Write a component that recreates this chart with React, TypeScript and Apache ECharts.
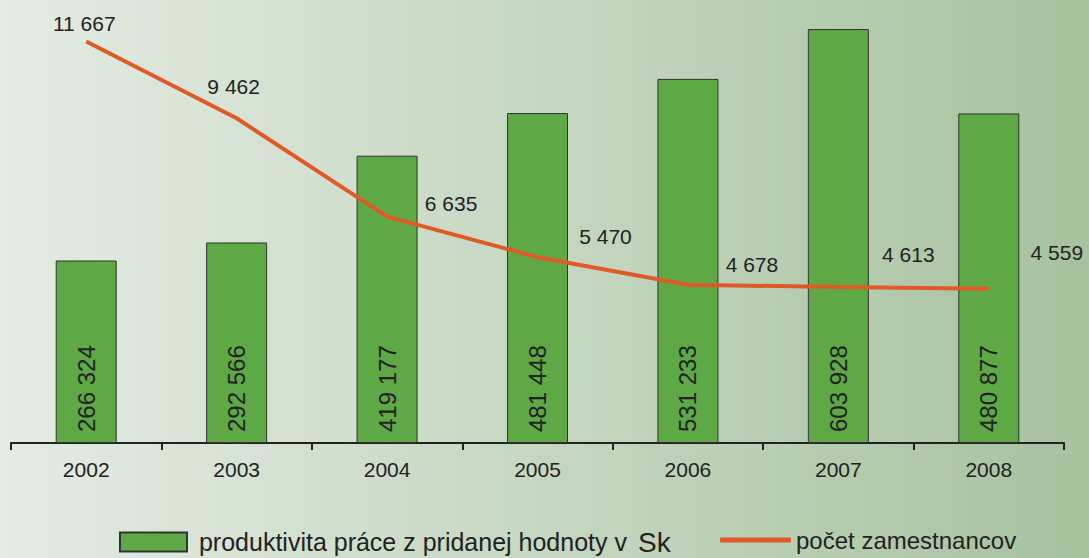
import React, { useEffect, useRef } from "react";
import * as echarts from "echarts";

const years = ["2002", "2003", "2004", "2005", "2006", "2007", "2008"];
const productivity = [266324, 292566, 419177, 481448, 531233, 603928, 480877];
const employees = [11667, 9462, 6635, 5470, 4678, 4613, 4559];
const employeeLabelOffsets = [
  [-2, -18],
  [-3, -32],
  [64, -13],
  [68, -21],
  [64, -20],
  [70, -32],
  [68, -36],
];

const barName = "produktivita práce z pridanej hodnoty v Sk";
const lineName = "počet zamestnancov";

const fmt = (v: number) => String(v).replace(/\B(?=(\d{3})+(?!\d))/g, " ");

const FONT = "'Liberation Sans', Arial, sans-serif";

export default function App() {
  const ref = useRef<HTMLDivElement>(null);
  useEffect(() => {
    if (!ref.current) return;
    const chart = echarts.init(ref.current, null, { renderer: "svg" });
    chart.setOption({
      animation: false,
      textStyle: { fontFamily: FONT },
      grid: { left: 11, right: 25, top: 3, bottom: 115, containLabel: false },
      legend: [
        {
          data: [barName],
          left: 119,
          top: 528,
          padding: 0,
          itemWidth: 67,
          itemHeight: 19,
          icon: "rect",
          formatter: () => "{a| produktivita práce z pridanej hodnoty v}{b|Sk}",
          textStyle: {
            color: "#222",
            rich: {
              a: { fontSize: 25, fontFamily: FONT, color: "#222" },
              b: { fontSize: 28, fontFamily: FONT, color: "#222", padding: [0, 0, 0, 11] },
            },
          },
        },
        {
          data: [lineName],
          left: 720,
          top: 528,
          padding: 0,
          itemWidth: 71,
          itemHeight: 5,
          icon: "roundRect",
          textStyle: { fontSize: 24, fontFamily: FONT, color: "#222" },
        },
      ],
      xAxis: {
        type: "category",
        data: years,
        boundaryGap: true,
        axisLine: { lineStyle: { color: "#222", width: 2 } },
        axisTick: { show: true, length: 7, lineStyle: { color: "#222", width: 2 } },
        axisLabel: { fontSize: 21, color: "#222", margin: 16, fontFamily: FONT },
      },
      yAxis: [
        { type: "value", min: 0, max: 642000, show: false, splitLine: { show: false } },
        { type: "value", min: 130, max: 12774, show: false, splitLine: { show: false } },
      ],
      series: [
        {
          name: barName,
          type: "bar",
          data: productivity,
          barWidth: 61,
          itemStyle: { color: "#5ea846", borderColor: "#333", borderWidth: 1 },
          label: {
            show: true,
            position: "insideBottom",
            rotate: 90,
            align: "left",
            verticalAlign: "middle",
            distance: 11,
            fontSize: 24,
            color: "#222",
            fontFamily: FONT,
            formatter: (p: any) => fmt(p.value),
          },
        },
        {
          name: lineName,
          type: "line",
          yAxisIndex: 1,
          data: employees.map((v, i) => ({
            value: v,
            label: { offset: employeeLabelOffsets[i] },
          })),
          symbol: "circle",
          symbolSize: 0.1,
          showSymbol: true,
          lineStyle: { color: "#e05a28", width: 4 },
          itemStyle: { color: "#e05a28" },
          label: {
            show: true,
            position: "inside",
            align: "center",
            verticalAlign: "middle",
            fontSize: 21,
            color: "#222",
            fontFamily: FONT,
            formatter: (p: any) => fmt(p.value),
          },
        },
      ],
    });
    return () => chart.dispose();
  }, []);
  return (
    <div
      ref={ref}
      style={{
        position: "fixed",
        left: 0,
        top: 0,
        width: 1089,
        height: 558,
        background: "linear-gradient(to right, #e4ece3, #a7c29f)",
      }}
    />
  );
}
